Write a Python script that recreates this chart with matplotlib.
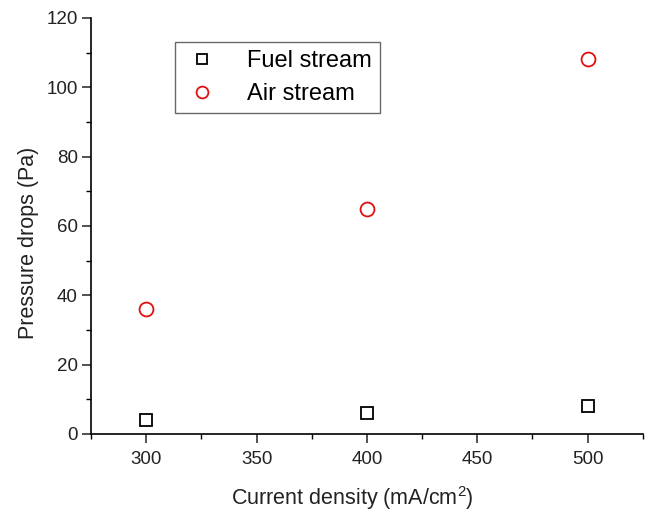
import matplotlib
matplotlib.use('Agg')
import matplotlib.pyplot as plt
from matplotlib.ticker import MultipleLocator

plt.rcParams['font.family'] = ['Liberation Sans', 'DejaVu Sans']
plt.rcParams['mathtext.fontset'] = 'custom'
plt.rcParams['mathtext.rm'] = 'Liberation Sans'

# data
current_density = [300, 400, 500]
fuel_stream = [4, 6, 8]
air_stream = [36, 65, 108]

fig = plt.figure(figsize=(6.5, 5.11), dpi=100)
ax = fig.add_axes([0.14, 0.151, 0.849, 0.814])

ax.plot(current_density, fuel_stream, linestyle='none', marker='s', markersize=9,
        markerfacecolor='none', markeredgecolor='black', markeredgewidth=1.3, label='Fuel stream')
ax.plot(current_density, air_stream, linestyle='none', marker='o', markersize=10,
        markerfacecolor='none', markeredgecolor='#e01010', markeredgewidth=1.3, label='Air stream')

ax.set_xlim(275, 525)
ax.set_ylim(0, 120)
ax.xaxis.set_major_locator(MultipleLocator(50))
ax.xaxis.set_minor_locator(MultipleLocator(25))
ax.yaxis.set_major_locator(MultipleLocator(20))
ax.yaxis.set_minor_locator(MultipleLocator(10))

ax.spines['top'].set_visible(False)
ax.spines['right'].set_visible(False)
for s in ['left', 'bottom']:
    ax.spines[s].set_linewidth(1.2)
ax.tick_params(which='major', direction='out', length=6.5, width=1.1, labelsize=13.5,
               colors='#222222', pad=3)
ax.tick_params(which='minor', direction='out', length=3.5, width=1.0)
ax.tick_params(axis='x', pad=6)

ax.set_xlabel('Current density (mA/cm$^\\mathregular{2}$)', fontsize=15.5, color='#222222')
ax.set_ylabel('Pressure drops (Pa)', fontsize=15.5, color='#222222')
ax.xaxis.set_label_coords(0.473, -0.12)
ax.yaxis.set_label_coords(-0.095, 0.46)

leg = ax.legend(loc='upper left', bbox_to_anchor=(0.152, 0.942), borderaxespad=0,
                fontsize=17, frameon=True, fancybox=False, edgecolor='#444444',
                borderpad=0.35, handletextpad=1.1, handlelength=1.6, labelspacing=0.45,
                markerscale=0.85)
leg.get_frame().set_linewidth(1.0)

plt.savefig('out.png', dpi=100)
